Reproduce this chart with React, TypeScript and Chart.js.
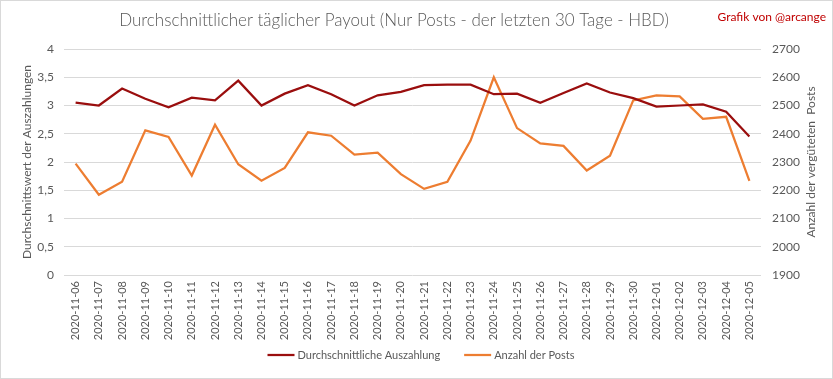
import React, { useEffect, useRef } from 'react';
import { Chart, registerables } from 'chart.js';

Chart.register(...registerables);

const dates = [
  '2020-11-06', '2020-11-07', '2020-11-08', '2020-11-09', '2020-11-10',
  '2020-11-11', '2020-11-12', '2020-11-13', '2020-11-14', '2020-11-15',
  '2020-11-16', '2020-11-17', '2020-11-18', '2020-11-19', '2020-11-20',
  '2020-11-21', '2020-11-22', '2020-11-23', '2020-11-24', '2020-11-25',
  '2020-11-26', '2020-11-27', '2020-11-28', '2020-11-29', '2020-11-30',
  '2020-12-01', '2020-12-02', '2020-12-03', '2020-12-04', '2020-12-05',
];

const avgPayout = [
  3.05, 3.0, 3.3, 3.12, 2.97, 3.14, 3.09, 3.44, 3.0, 3.21,
  3.36, 3.2, 3.0, 3.18, 3.24, 3.36, 3.37, 3.37, 3.2, 3.21,
  3.05, 3.22, 3.39, 3.23, 3.13, 2.98, 3.0, 3.02, 2.89, 2.45,
];

const postCount = [
  2294, 2184, 2230, 2412, 2389, 2252, 2432, 2292, 2234, 2279,
  2405, 2393, 2326, 2333, 2257, 2205, 2230, 2376, 2600, 2420,
  2366, 2357, 2270, 2322, 2518, 2536, 2532, 2453, 2460, 2233,
];

const seriesNames = ['Durchschnittliche Auszahlung', 'Anzahl der Posts'];
const titleText = 'Durchschnittlicher täglicher Payout (Nur Posts - der letzten 30 Tage - HBD)';
const creditText = 'Grafik von @arcange';
const leftAxisTitle = 'Durchschnittswert der Auszahlungen';
const rightAxisTitle = 'Anzahl der vergüteten  Posts';

const FONT = 'Lato, "Open Sans", sans-serif';
const GREY = '#595959';
const RED = '#9a0e0e';
const ORANGE = '#ed7d31';

const decorPlugin = {
  id: 'decor',
  afterDraw(chart: any) {
    const ctx = chart.ctx;
    const area = chart.chartArea;
    ctx.save();
    // outer border
    ctx.strokeStyle = '#d9d9d9';
    ctx.lineWidth = 1;
    ctx.strokeRect(0.5, 0.5, chart.width - 1, chart.height - 1);
    // title
    ctx.fillStyle = GREY;
    ctx.font = '300 17px ' + FONT;
    ctx.textAlign = 'center';
    ctx.textBaseline = 'middle';
    ctx.fillText(titleText, 394, 21);
    // credit
    ctx.fillStyle = '#c00000';
    ctx.font = '12px ' + FONT;
    ctx.textAlign = 'right';
    ctx.fillText(creditText, 826, 17);
    // axis titles (both read bottom-to-top)
    const midY = (area.top + area.bottom) / 2;
    ctx.fillStyle = GREY;
    ctx.font = '12px ' + FONT;
    ctx.textAlign = 'center';
    ctx.textBaseline = 'middle';
    ctx.save();
    ctx.translate(27, midY);
    ctx.rotate(-Math.PI / 2);
    ctx.fillText(leftAxisTitle, 0, 0);
    ctx.restore();
    ctx.save();
    ctx.translate(811, midY);
    ctx.rotate(-Math.PI / 2);
    ctx.fillText(rightAxisTitle, 0, 0);
    ctx.restore();
    // legend
    ctx.font = '11px ' + FONT;
    ctx.textAlign = 'left';
    const lineLen = 27;
    const gapText = 3;
    const gapItem = 24;
    const ds = chart.data.datasets;
    const widths = ds.map((d: any) => lineLen + gapText + ctx.measureText(d.label).width);
    const total = widths.reduce((a: number, b: number) => a + b, 0) + gapItem * (ds.length - 1);
    let x = chart.width / 2 + 4.5 - total / 2;
    const y = 355;
    ds.forEach((d: any, i: number) => {
      ctx.strokeStyle = d.borderColor;
      ctx.lineWidth = 2.25;
      ctx.beginPath();
      ctx.moveTo(x, y);
      ctx.lineTo(x + lineLen, y);
      ctx.stroke();
      ctx.fillStyle = GREY;
      ctx.fillText(d.label, x + lineLen + gapText, y);
      x += widths[i] + gapItem;
    });
    ctx.restore();
  },
};

export default function App() {
  const ref = useRef<HTMLCanvasElement>(null);

  useEffect(() => {
    if (!ref.current) return;
    const chart = new Chart(ref.current, {
      type: 'line',
      data: {
        labels: dates,
        datasets: [
          {
            label: seriesNames[0],
            data: avgPayout,
            borderColor: RED,
            backgroundColor: RED,
            borderWidth: 2.25,
            pointRadius: 0,
            tension: 0,
            yAxisID: 'y',
          },
          {
            label: seriesNames[1],
            data: postCount,
            borderColor: ORANGE,
            backgroundColor: ORANGE,
            borderWidth: 2.25,
            pointRadius: 0,
            tension: 0,
            yAxisID: 'y1',
          },
        ],
      },
      options: {
        responsive: false,
        animation: false,
        devicePixelRatio: 1,
        layout: { padding: { top: 49, bottom: 39, left: 0, right: 0 } },
        plugins: {
          title: { display: false },
          tooltip: { enabled: false },
          legend: { display: false },
        },
        scales: {
          x: {
            offset: true,
            grid: { display: false, drawTicks: false },
            border: { display: false },
            ticks: {
              autoSkip: false,
              minRotation: 90,
              maxRotation: 90,
              padding: 6,
              color: GREY,
              font: { family: FONT, size: 11 },
            },
            afterFit: (s: any) => {
              s.height = 65;
            },
          },
          y: {
            position: 'left',
            min: 0,
            max: 4,
            ticks: {
              stepSize: 0.5,
              padding: 10,
              color: GREY,
              font: { family: FONT, size: 12 },
              callback: (v: any) => String(v).replace('.', ','),
            },
            grid: { color: '#d9d9d9', drawTicks: false, lineWidth: 1 },
            border: { display: false },
            afterFit: (s: any) => {
              s.width = 64;
            },
          },
          y1: {
            position: 'right',
            min: 1900,
            max: 2700,
            ticks: {
              stepSize: 100,
              padding: 11,
              color: GREY,
              font: { family: FONT, size: 12 },
              callback: (v: any) => String(v),
            },
            grid: { drawOnChartArea: false, drawTicks: false },
            border: { display: false },
            afterFit: (s: any) => {
              s.width = 72;
            },
          },
        },
      },
      plugins: [decorPlugin],
    } as any);
    return () => chart.destroy();
  }, []);

  return (
    <div style={{ position: 'absolute', left: 0, top: 0, width: 833, height: 379, background: '#fff' }}>
      <canvas ref={ref} width={833} height={379} style={{ display: 'block' }} />
    </div>
  );
}
